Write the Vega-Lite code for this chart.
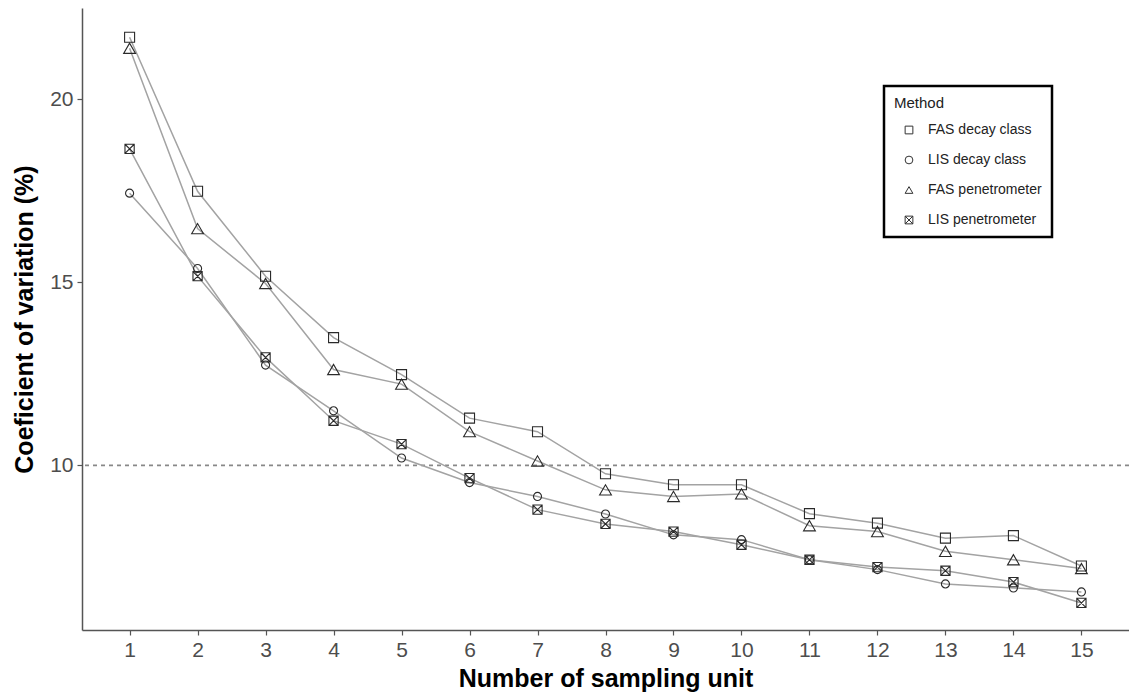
{
  "$schema": "https://vega.github.io/schema/vega-lite/v6.json",
  "autosize": {"type": "none"},
  "padding": {"left": 82, "top": 8, "right": 0, "bottom": 63},
  "width": 1047,
  "height": 622,
  "background": "white",
  "config": {
    "view": {"stroke": null},
    "font": "Liberation Sans",
    "legend": {"strokeWidth": 2.5},
    "axis": {
      "grid": false,
      "domainColor": "#555555",
      "domainWidth": 1.5,
      "tickColor": "#555555",
      "tickWidth": 1.2,
      "tickSize": 5,
      "labelColor": "#4d4d4d",
      "labelFont": "Liberation Sans",
      "labelFontSize": 21,
      "labelPadding": 4,
      "titleFont": "Liberation Sans",
      "titleFontWeight": "bold",
      "titleFontSize": 25,
      "titleColor": "#000000"
    }
  },
  "datasets": {
    "cv": [
      {"method": "FAS decay class", "n": 1, "cv": 21.70},
      {"method": "FAS decay class", "n": 2, "cv": 17.49},
      {"method": "FAS decay class", "n": 3, "cv": 15.17},
      {"method": "FAS decay class", "n": 4, "cv": 13.49},
      {"method": "FAS decay class", "n": 5, "cv": 12.48},
      {"method": "FAS decay class", "n": 6, "cv": 11.29},
      {"method": "FAS decay class", "n": 7, "cv": 10.92},
      {"method": "FAS decay class", "n": 8, "cv": 9.77},
      {"method": "FAS decay class", "n": 9, "cv": 9.47},
      {"method": "FAS decay class", "n": 10, "cv": 9.47},
      {"method": "FAS decay class", "n": 11, "cv": 8.68},
      {"method": "FAS decay class", "n": 12, "cv": 8.42},
      {"method": "FAS decay class", "n": 13, "cv": 8.01},
      {"method": "FAS decay class", "n": 14, "cv": 8.08},
      {"method": "FAS decay class", "n": 15, "cv": 7.25},
      {"method": "LIS decay class", "n": 1, "cv": 17.44},
      {"method": "LIS decay class", "n": 2, "cv": 15.38},
      {"method": "LIS decay class", "n": 3, "cv": 12.74},
      {"method": "LIS decay class", "n": 4, "cv": 11.49},
      {"method": "LIS decay class", "n": 5, "cv": 10.20},
      {"method": "LIS decay class", "n": 6, "cv": 9.53},
      {"method": "LIS decay class", "n": 7, "cv": 9.15},
      {"method": "LIS decay class", "n": 8, "cv": 8.67},
      {"method": "LIS decay class", "n": 9, "cv": 8.10},
      {"method": "LIS decay class", "n": 10, "cv": 7.97},
      {"method": "LIS decay class", "n": 11, "cv": 7.42},
      {"method": "LIS decay class", "n": 12, "cv": 7.15},
      {"method": "LIS decay class", "n": 13, "cv": 6.76},
      {"method": "LIS decay class", "n": 14, "cv": 6.65},
      {"method": "LIS decay class", "n": 15, "cv": 6.54},
      {"method": "FAS penetrometer", "n": 1, "cv": 21.40},
      {"method": "FAS penetrometer", "n": 2, "cv": 16.47},
      {"method": "FAS penetrometer", "n": 3, "cv": 14.97},
      {"method": "FAS penetrometer", "n": 4, "cv": 12.62},
      {"method": "FAS penetrometer", "n": 5, "cv": 12.22},
      {"method": "FAS penetrometer", "n": 6, "cv": 10.92},
      {"method": "FAS penetrometer", "n": 7, "cv": 10.12},
      {"method": "FAS penetrometer", "n": 8, "cv": 9.33},
      {"method": "FAS penetrometer", "n": 9, "cv": 9.15},
      {"method": "FAS penetrometer", "n": 10, "cv": 9.22},
      {"method": "FAS penetrometer", "n": 11, "cv": 8.35},
      {"method": "FAS penetrometer", "n": 12, "cv": 8.19},
      {"method": "FAS penetrometer", "n": 13, "cv": 7.65},
      {"method": "FAS penetrometer", "n": 14, "cv": 7.42},
      {"method": "FAS penetrometer", "n": 15, "cv": 7.18},
      {"method": "LIS penetrometer", "n": 1, "cv": 18.65},
      {"method": "LIS penetrometer", "n": 2, "cv": 15.17},
      {"method": "LIS penetrometer", "n": 3, "cv": 12.95},
      {"method": "LIS penetrometer", "n": 4, "cv": 11.22},
      {"method": "LIS penetrometer", "n": 5, "cv": 10.58},
      {"method": "LIS penetrometer", "n": 6, "cv": 9.65},
      {"method": "LIS penetrometer", "n": 7, "cv": 8.79},
      {"method": "LIS penetrometer", "n": 8, "cv": 8.40},
      {"method": "LIS penetrometer", "n": 9, "cv": 8.19},
      {"method": "LIS penetrometer", "n": 10, "cv": 7.83},
      {"method": "LIS penetrometer", "n": 11, "cv": 7.42},
      {"method": "LIS penetrometer", "n": 12, "cv": 7.22},
      {"method": "LIS penetrometer", "n": 13, "cv": 7.12},
      {"method": "LIS penetrometer", "n": 14, "cv": 6.81},
      {"method": "LIS penetrometer", "n": 15, "cv": 6.24}
    ],
    "ref": [{"y": 10}]
  },
  "encoding": {
    "x": {
      "field": "n", "type": "quantitative",
      "scale": {"domain": [0.3, 15.7], "nice": false, "zero": false},
      "axis": {"values": [1,2,3,4,5,6,7,8,9,10,11,12,13,14,15], "format": "d", "title": "Number of sampling unit", "titleY": 56, "titleBaseline": "alphabetic"}
    },
    "y": {
      "field": "cv", "type": "quantitative",
      "scale": {"domain": [5.5, 22.5], "nice": false, "zero": false},
      "axis": {"values": [10, 15, 20], "title": "Coeficient of variation (%)", "titlePadding": 12}
    }
  },
  "layer": [
    {
      "data": {"name": "ref"},
      "mark": {"type": "rule", "strokeDash": [4, 4], "color": "#888888", "strokeWidth": 1.8},
      "encoding": {
        "x": null,
        "y": {"field": "y", "type": "quantitative"}
      }
    },
    {
      "data": {"name": "cv"},
      "mark": {"type": "line", "color": "#a3a3a3", "strokeWidth": 1.5},
      "encoding": {
        "detail": {"field": "method", "type": "nominal"}
      }
    },
    {
      "data": {"name": "cv"},
      "transform": [{"filter": "datum.method === 'FAS decay class'"}],
      "mark": {"type": "point", "filled": false, "color": "#2a2a2a", "strokeWidth": 1.1, "opacity": 1, "size": 100},
      "encoding": {
        "shape": {
          "field": "method", "type": "nominal",
          "scale": {
            "domain": ["FAS decay class", "LIS decay class", "FAS penetrometer", "LIS penetrometer"],
            "range": ["square", "circle", "triangle-up", "M-1,-1H1V1H-1Z M-1,-1L1,1 M1,-1L-1,1"]
          },
          "legend": {
            "title": "Method",
            "orient": "none",
            "legendX": 802,
            "legendY": 78,
            "padding": 10,
            "strokeColor": "#000000",
            "fillColor": "#ffffff",
            "titleFontSize": 15,
            "titleFontWeight": "normal",
            "titleColor": "#222222",
            "titlePadding": 12,
            "labelFontSize": 14,
            "labelColor": "#222222",
            "rowPadding": 16,
            "symbolOffset": 8,
            "symbolSize": 60,
            "symbolStrokeColor": "#333333",
            "symbolStrokeWidth": 1,
            "labelOffset": 12
          }
        }
      }
    },
    {
      "data": {"name": "cv"},
      "transform": [{"filter": "datum.method === 'LIS decay class'"}],
      "mark": {"type": "point", "filled": false, "color": "#2a2a2a", "strokeWidth": 1.1, "opacity": 1, "size": 65},
      "encoding": {"shape": {"field": "method", "type": "nominal"}}
    },
    {
      "data": {"name": "cv"},
      "transform": [{"filter": "datum.method === 'FAS penetrometer'"}],
      "mark": {"type": "point", "filled": false, "color": "#2a2a2a", "strokeWidth": 1.1, "opacity": 1, "size": 140},
      "encoding": {"shape": {"field": "method", "type": "nominal"}}
    },
    {
      "data": {"name": "cv"},
      "transform": [{"filter": "datum.method === 'LIS penetrometer'"}],
      "mark": {"type": "point", "filled": false, "color": "#2a2a2a", "strokeWidth": 1.1, "opacity": 1, "size": 85},
      "encoding": {"shape": {"field": "method", "type": "nominal"}}
    }
  ]
}
